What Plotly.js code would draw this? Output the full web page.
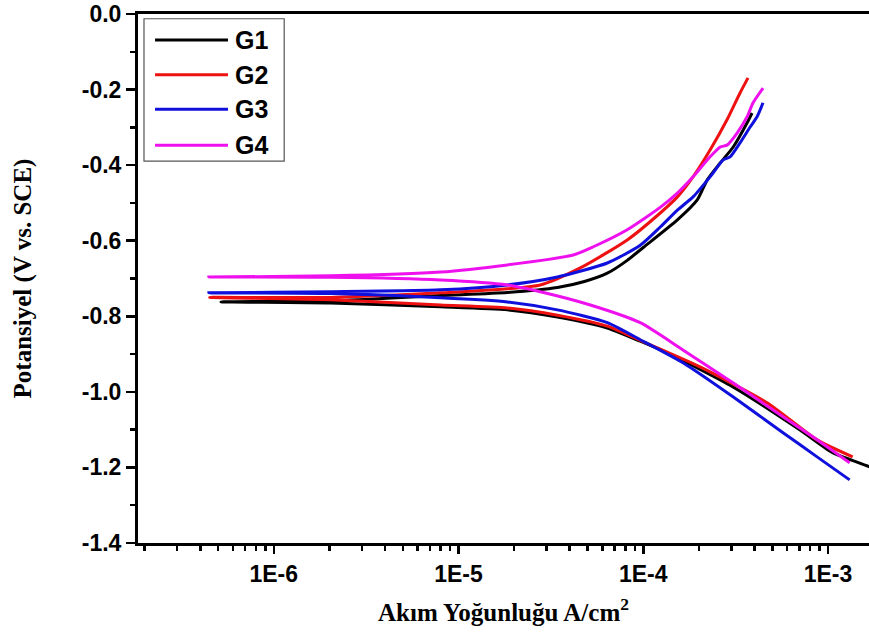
<!DOCTYPE html>
<html>
<head>
<meta charset="utf-8">
<script src="https://cdn.plot.ly/plotly-3.0.1.min.js"></script>
<style>html,body{margin:0;padding:0;background:#fff;}#chart{width:869px;height:640px;}</style>
</head>
<body>
<div id="chart"></div>
<script>
// Series names and colours
const seriesNames = ["G1", "G2", "G3", "G4"];
const seriesColors = ["#000000", "#ee1111", "#1010dd", "#ee11ee"];

// Each series: current density (A/cm2) and potential (V vs SCE), cathodic end -> Ecorr tip -> anodic end
const g1Current = [1.9e-3, 1.67e-3, 1.06e-3, 7.06e-4, 3.06e-4, 1.35e-4, 9.63e-5, 6.39e-5, 3.43e-5, 1.84e-5, 7.99e-6, 2.03e-6, 5.18e-7,
                   2.03e-6, 7.99e-6, 1.84e-5, 3.43e-5, 4.8e-5, 6.39e-5, 8.19e-5, 1.0e-4, 1.53e-4, 1.96e-4, 2.22e-4, 2.61e-4, 3.07e-4, 3.65e-4, 3.88e-4];
const g1Potential = [-1.212, -1.198, -1.161, -1.101, -0.987, -0.897, -0.866, -0.831, -0.802, -0.783, -0.775, -0.765, -0.762,
                     -0.759, -0.745, -0.737, -0.724, -0.708, -0.686, -0.652, -0.618, -0.545, -0.492, -0.439, -0.394, -0.352, -0.288, -0.262];

const g2Current = [1.36e-3, 8.73e-4, 4.68e-4, 2.03e-4, 9.63e-5, 6.39e-5, 3.43e-5, 1.84e-5, 7.99e-6, 2.03e-6, 4.5e-7,
                   2.03e-6, 7.99e-6, 2.77e-5, 4.56e-5, 8.19e-5, 1.24e-4, 1.53e-4, 1.86e-4, 2.30e-4, 2.84e-4, 3.34e-4, 3.69e-4];
const g2Potential = [-1.172, -1.127, -1.029, -0.934, -0.864, -0.826, -0.797, -0.778, -0.770, -0.756, -0.750,
                     -0.750, -0.738, -0.717, -0.672, -0.598, -0.526, -0.484, -0.431, -0.360, -0.280, -0.209, -0.169];

const g3Current = [1.31e-3, 8.73e-4, 5.71e-4, 3.06e-4, 1.64e-4, 9.63e-5, 6.39e-5, 3.43e-5, 1.84e-5, 7.99e-6, 2.03e-6, 4.45e-7,
                   2.03e-6, 7.99e-6, 1.84e-5, 3.43e-5, 6.39e-5, 9.63e-5, 1.24e-4, 1.53e-4, 1.86e-4, 2.30e-4, 2.71e-4, 2.95e-4, 3.34e-4, 3.79e-4, 4.13e-4, 4.45e-4];
const g3Potential = [-1.233, -1.172, -1.108, -1.013, -0.923, -0.862, -0.817, -0.783, -0.762, -0.751, -0.740, -0.738,
                     -0.735, -0.730, -0.717, -0.696, -0.659, -0.612, -0.563, -0.519, -0.484, -0.431, -0.386, -0.378, -0.341, -0.299, -0.272, -0.235];

const g4Current = [1.31e-3, 8.73e-4, 5.71e-4, 3.06e-4, 1.64e-4, 9.63e-5, 5.17e-5, 2.77e-5, 1.84e-5, 7.99e-6, 2.03e-6, 4.45e-7,
                   2.03e-6, 7.99e-6, 1.84e-5, 4.18e-5, 5.37e-5, 8.19e-5, 1.24e-4, 1.53e-4, 1.86e-4, 2.30e-4, 2.61e-4, 2.84e-4, 3.22e-4, 3.65e-4, 3.93e-4, 4.45e-4];
const g4Potential = [-1.188, -1.127, -1.066, -0.976, -0.889, -0.817, -0.770, -0.735, -0.717, -0.704, -0.697, -0.696,
                     -0.693, -0.683, -0.664, -0.638, -0.616, -0.571, -0.511, -0.474, -0.431, -0.378, -0.352, -0.347, -0.315, -0.272, -0.235, -0.196];

// Tick labels
const xTickVals = [1e-6, 1e-5, 1e-4, 1e-3];
const xTickText = ["1E-6", "1E-5", "1E-4", "1E-3"];
const yTickVals = [0, -0.2, -0.4, -0.6, -0.8, -1.0, -1.2, -1.4];
const yTickText = ["0.0", "-0.2", "-0.4", "-0.6", "-0.8", "-1.0", "-1.2", "-1.4"];

const xTitle = "Akım Yoğunluğu A/cm<sup>2</sup>";
const yTitle = "Potansiyel (V vs. SCE)";

// minor ticks at 2..9 x each decade
const xMinorVals = [];
for (let d = -7; d <= -3; d++) for (let m = 2; m <= 9; m++) xMinorVals.push(m * Math.pow(10, d));

const allX = [g1Current, g2Current, g3Current, g4Current];
const allY = [g1Potential, g2Potential, g3Potential, g4Potential];

const traces = seriesNames.map((name, k) => ({
  x: allX[k], y: allY[k], name: name, type: "scatter", mode: "lines",
  line: {color: seriesColors[k], width: 3, shape: "spline", smoothing: 0.6},
  showlegend: false
}));

const tickFont = {family: "Liberation Sans, Arial, sans-serif", size: 23, weight: "bold", color: "#000"};
const titleFont = {family: "Liberation Serif, Times New Roman, serif", size: 25, weight: "bold", color: "#000"};

// custom legend (paper coordinates)
const legRowsY = [0.951, 0.885, 0.820, 0.752];
const shapes = [{type: "rect", xref: "paper", yref: "paper", x0: 0.0082, x1: 0.200, y0: 0.722, y1: 0.991,
                 line: {color: "#555", width: 1.2}, fillcolor: "rgba(0,0,0,0)"}];
const annotations = [];
seriesNames.forEach((name, k) => {
  shapes.push({type: "line", xref: "paper", yref: "paper", x0: 0.0233, x1: 0.1231, y0: legRowsY[k], y1: legRowsY[k],
               line: {color: seriesColors[k], width: 3}});
  annotations.push({xref: "paper", yref: "paper", x: 0.130, y: legRowsY[k], xanchor: "left", yanchor: "middle",
                    text: name, showarrow: false,
                    font: {family: "Liberation Sans, Arial, sans-serif", size: 25, weight: "bold", color: "#000"}});
});

const layout = {
  width: 869, height: 640,
  margin: {l: 138, r: 0, t: 14, b: 97},
  paper_bgcolor: "#fff", plot_bgcolor: "#fff",
  showlegend: false,
  xaxis: {
    type: "log", range: [-6.735, -2.778],
    tickvals: xTickVals, ticktext: xTickText,
    ticks: "outside", ticklen: 8, tickwidth: 2.5, tickcolor: "#000",
    minor: {tickmode: "array", tickvals: xMinorVals, ticks: "outside", ticklen: 5, tickwidth: 2.5, tickcolor: "#000", showgrid: false},
    showline: true, linewidth: 3, linecolor: "#000", mirror: true,
    showgrid: false, zeroline: false,
    tickfont: tickFont,
    title: {text: xTitle, font: titleFont, standoff: 18}
  },
  yaxis: {
    range: [-1.4, 0],
    tickvals: yTickVals, ticktext: yTickText,
    ticks: "outside", ticklen: 9, tickwidth: 2.5, tickcolor: "#000",
    minor: {dtick: 0.1, tick0: 0, ticks: "outside", ticklen: 5, tickwidth: 2.5, tickcolor: "#000", showgrid: false},
    showline: true, linewidth: 3, linecolor: "#000",
    showgrid: false, zeroline: false,
    tickfont: tickFont,
    title: {text: yTitle, font: titleFont, standoff: 44}
  },
  shapes: shapes,
  annotations: annotations
};

Plotly.newPlot("chart", traces, layout, {displayModeBar: false, staticPlot: true});
</script>
</body>
</html>
